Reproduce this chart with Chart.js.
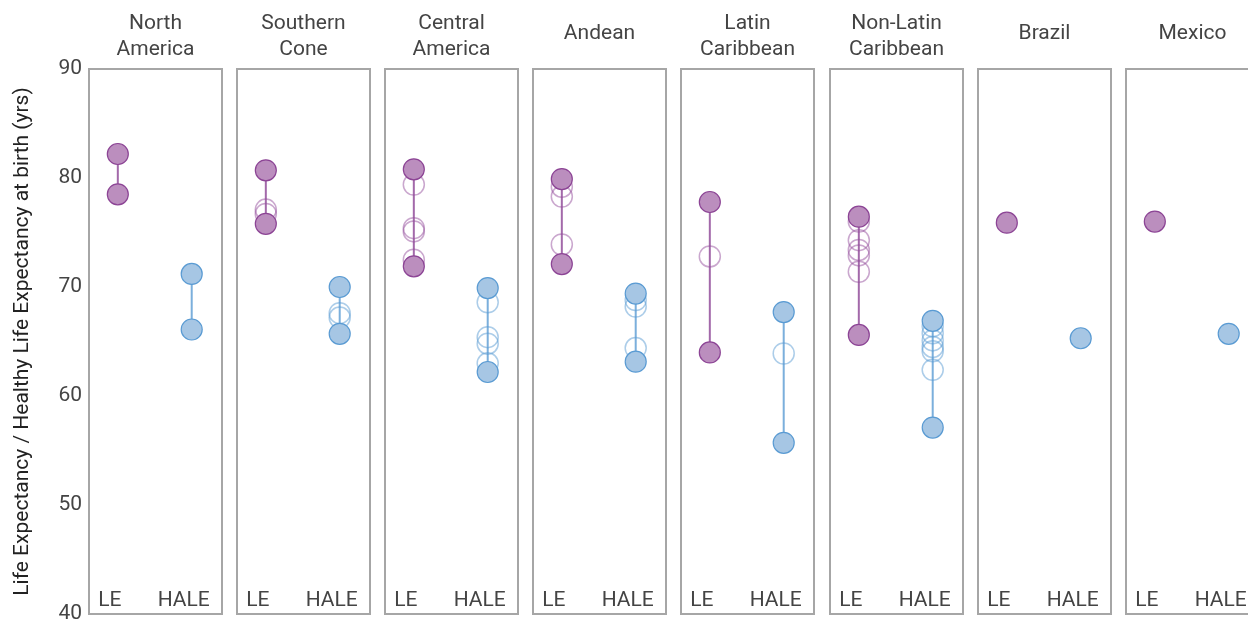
<!DOCTYPE html>
<html>
<head>
<meta charset="utf-8">
<script src="https://cdn.jsdelivr.net/npm/chart.js@4.4.1/dist/chart.umd.min.js"></script>
<style>
  html, body { margin: 0; padding: 0; background: #fff; }
  body { width: 1248px; height: 624px; overflow: hidden; position: relative; }
  .panel { position: absolute; top: 0; height: 624px; }
  .panel canvas { display: block; }
</style>
</head>
<body>
<script>
// Regions (panel titles, split into lines)
const regionTitles = [
  ['North', 'America'],
  ['Southern', 'Cone'],
  ['Central', 'America'],
  ['Andean'],
  ['Latin', 'Caribbean'],
  ['Non-Latin', 'Caribbean'],
  ['Brazil'],
  ['Mexico']
];

// Column labels inside each panel
const measureLabels = ['LE', 'HALE'];

// Life expectancy at birth (years), one list per region
const leValues = [
  [82.2, 78.5],
  [80.7, 77.1, 76.7, 75.8],
  [80.8, 79.4, 75.4, 75.1, 72.5, 71.9],
  [79.9, 79.2, 78.3, 73.9, 72.1],
  [77.8, 72.8, 64.0],
  [76.45, 76.0, 74.3, 73.4, 72.9, 71.4, 65.6],
  [75.9],
  [76.0]
];

// Healthy life expectancy at birth (years), one list per region
const haleValues = [
  [71.2, 66.1],
  [70.0, 67.6, 67.2, 65.7],
  [69.9, 68.6, 65.4, 64.8, 63.0, 62.2],
  [69.4, 68.8, 68.2, 64.4, 63.15],
  [67.7, 63.9, 55.7],
  [66.9, 66.4, 65.75, 65.1, 64.5, 64.1, 62.4, 57.1],
  [65.3],
  [65.7]
];

// Y axis
const yMin = 40, yMax = 90, yStep = 10;
const yTitle = 'Life Expectancy / Healthy Life Expectancy at birth (yrs)';

const FONT = 'Roboto, "Noto Sans", sans-serif';
const TEXT = '#444';

const palette = {
  le:   { fill: '#bb8ebe', border: '#8c4495', line: 'rgba(140,68,149,0.8)', hollow: 'rgba(150,80,158,0.5)' },
  hale: { fill: '#a6c6e4', border: '#5a9bd3', line: 'rgba(90,155,211,0.8)', hollow: 'rgba(90,155,211,0.5)' }
};

const AXIS_W = 89;      // width reserved for the y axis in the first panel
const PANEL_W = 133;    // plot frame width
const PANEL_STEP = 148.1;
const TOP = 69, BOTTOM = 614;

// frame, panel title and column labels
const panelDecor = {
  id: 'panelDecor',
  beforeDatasetsDraw(chart) {
    const { ctx, chartArea: a } = chart;
    ctx.save();
    ctx.strokeStyle = '#a6a6a6';
    ctx.lineWidth = 2;
    ctx.strokeRect(a.left, a.top, a.right - a.left, a.bottom - a.top);
    ctx.restore();
  },
  afterDraw(chart) {
    const { ctx, chartArea: a, scales } = chart;
    const opts = chart.options.plugins.panelDecor;
    ctx.save();
    ctx.fillStyle = TEXT;
    ctx.font = '21px ' + FONT;
    ctx.textAlign = 'center';
    ctx.textBaseline = 'middle';
    const cx = (a.left + a.right) / 2;
    const lines = opts.title;
    if (lines.length === 2) {
      ctx.fillText(lines[0], cx, 23.5);
      ctx.fillText(lines[1], cx, 49.5);
    } else {
      ctx.fillText(lines[0], cx, 34);
    }
    measureLabels.forEach((lab, k) => {
      ctx.fillText(lab, scales.x.getPixelForValue(k) - 8, 600.5);
    });
    ctx.restore();
  }
};

function seriesSets(values, xPos, col, tag) {
  const sets = [];
  const sorted = values.slice().sort((p, q) => q - p);
  const hi = sorted[0], lo = sorted[sorted.length - 1];
  const extremes = sorted.length > 1 ? [hi, lo] : [hi];
  const middle = sorted.slice(1, -1);
  if (sorted.length > 1) {
    sets.push({
      label: tag + ' range', type: 'line',
      data: [{ x: xPos, y: hi }, { x: xPos, y: lo }],
      borderColor: col.line, borderWidth: 2, pointRadius: 0, order: 3
    });
  }
  if (middle.length) {
    sets.push({
      label: tag + ' others', type: 'scatter',
      data: middle.map(v => ({ x: xPos, y: v })),
      pointRadius: 10.5, pointBackgroundColor: 'rgba(0,0,0,0)',
      pointBorderColor: col.hollow, pointBorderWidth: 1.5, order: 2
    });
  }
  sets.push({
    label: tag + ' extremes', type: 'scatter',
    data: extremes.map(v => ({ x: xPos, y: v })),
    pointRadius: 10.5, pointBackgroundColor: col.fill,
    pointBorderColor: col.border, pointBorderWidth: 1.2, order: 1
  });
  return sets;
}

regionTitles.forEach((title, i) => {
  const first = i === 0;
  const frameLeft = Math.round(AXIS_W + PANEL_STEP * i);
  const canvasLeft = first ? 0 : frameLeft - 2;
  const width = first ? AXIS_W + PANEL_W + 2 : PANEL_W + 4;

  const div = document.createElement('div');
  div.className = 'panel';
  div.style.left = canvasLeft + 'px';
  div.style.width = width + 'px';
  const canvas = document.createElement('canvas');
  canvas.width = width; canvas.height = 624;
  canvas.style.width = width + 'px'; canvas.style.height = '624px';
  div.appendChild(canvas);
  document.body.appendChild(div);

  const datasets = [
    ...seriesSets(leValues[i], 0, palette.le, 'LE'),
    ...seriesSets(haleValues[i], 1, palette.hale, 'HALE')
  ];

  const yScale = {
    type: 'linear', min: yMin, max: yMax,
    display: first,
    position: 'left',
    grid: { display: false, drawTicks: false },
    border: { display: false },
    ticks: { stepSize: yStep, color: TEXT, padding: 7, font: { family: FONT, size: 21 } },
    title: {
      display: true, text: yTitle, color: '#222',
      font: { family: FONT, size: 21 }, padding: { top: 10, bottom: 0 }
    }
  };
  if (first) {
    // fixed axis width; end tick labels may overhang the plot frame
    yScale.afterFit = (scale) => {
      scale.width = AXIS_W;
      scale.paddingTop = 0;
      scale.paddingBottom = 0;
    };
  }

  new Chart(canvas, {
    type: 'scatter',
    data: { datasets },
    plugins: [panelDecor],
    options: {
      responsive: false,
      animation: false,
      events: [],
      layout: {
        autoPadding: false,
        padding: { top: TOP, bottom: 624 - BOTTOM, left: first ? 0 : 2, right: 2 }
      },
      plugins: {
        legend: { display: false },
        tooltip: { enabled: false },
        panelDecor: { title }
      },
      scales: {
        x: { type: 'linear', min: -0.39, max: 1.41, display: false },
        y: yScale
      }
    }
  });
});
</script>
</body>
</html>
